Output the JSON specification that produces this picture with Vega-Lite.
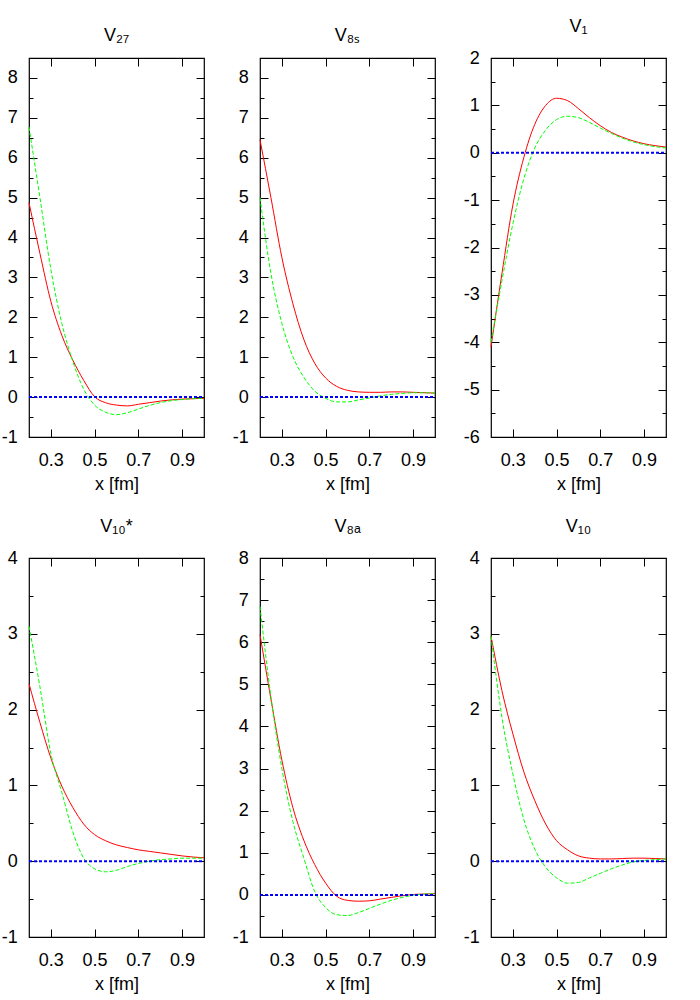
{
  "$schema": "https://vega.github.io/schema/vega-lite/v6.json",
  "padding": {"top": 17, "left": 0, "right": 0, "bottom": 0},
  "background": "white",
  "config": {
    "view": {"stroke": "black", "strokeWidth": 1.2},
    "axis": {"grid": false, "domain": false, "labelFont": "Liberation Sans", "labelFontSize": 18, "labelColor": "black", "tickColor": "black", "tickWidth": 1, "titleFont": "Liberation Sans", "titleFontSize": 18, "titleFontWeight": "normal", "titleColor": "black", "labelOverlap": false, "labelFlush": false},
    "title": {"font": "Liberation Sans", "fontSize": 18, "fontWeight": "normal", "color": "black", "offset": 13}
  },
  "data": {"values": [
    {"panel":"V27","x":0.2,"red":4.87,"green":6.77},{"panel":"V27","x":0.25,"red":3.6,"green":5.0},{"panel":"V27","x":0.3,"red":2.4,"green":3.2},{"panel":"V27","x":0.35,"red":1.55,"green":1.85},{"panel":"V27","x":0.4,"red":0.93,"green":0.9},{"panel":"V27","x":0.45,"red":0.42,"green":0.2},{"panel":"V27","x":0.5,"red":0.01,"green":-0.2},{"panel":"V27","x":0.55,"red":-0.14,"green":-0.38},{"panel":"V27","x":0.6,"red":-0.2,"green":-0.44},{"panel":"V27","x":0.65,"red":-0.22,"green":-0.39},{"panel":"V27","x":0.7,"red":-0.18,"green":-0.3},{"panel":"V27","x":0.75,"red":-0.14,"green":-0.21},{"panel":"V27","x":0.8,"red":-0.1,"green":-0.14},{"panel":"V27","x":0.85,"red":-0.07,"green":-0.09},{"panel":"V27","x":0.9,"red":-0.05,"green":-0.06},{"panel":"V27","x":0.95,"red":-0.04,"green":-0.04},{"panel":"V27","x":1.0,"red":-0.03,"green":-0.03},
    {"panel":"V8s","x":0.2,"red":6.45,"green":5.0},{"panel":"V8s","x":0.25,"red":5.0,"green":3.1},{"panel":"V8s","x":0.3,"red":3.5,"green":1.85},{"panel":"V8s","x":0.35,"red":2.35,"green":1.02},{"panel":"V8s","x":0.4,"red":1.45,"green":0.5},{"panel":"V8s","x":0.45,"red":0.85,"green":0.15},{"panel":"V8s","x":0.5,"red":0.48,"green":-0.03},{"panel":"V8s","x":0.55,"red":0.27,"green":-0.12},{"panel":"V8s","x":0.6,"red":0.17,"green":-0.12},{"panel":"V8s","x":0.65,"red":0.13,"green":-0.07},{"panel":"V8s","x":0.7,"red":0.12,"green":-0.02},{"panel":"V8s","x":0.75,"red":0.12,"green":0.03},{"panel":"V8s","x":0.8,"red":0.13,"green":0.07},{"panel":"V8s","x":0.85,"red":0.13,"green":0.09},{"panel":"V8s","x":0.9,"red":0.12,"green":0.11},{"panel":"V8s","x":0.95,"red":0.11,"green":0.11},{"panel":"V8s","x":1.0,"red":0.1,"green":0.1},
    {"panel":"V1","x":0.2,"red":-4.1,"green":-4.0},{"panel":"V1","x":0.25,"red":-2.55,"green":-2.7},{"panel":"V1","x":0.3,"red":-1.1,"green":-1.5},{"panel":"V1","x":0.35,"red":-0.1,"green":-0.55},{"panel":"V1","x":0.4,"red":0.6,"green":0.1},{"panel":"V1","x":0.45,"red":1.0,"green":0.48},{"panel":"V1","x":0.5,"red":1.15,"green":0.7},{"panel":"V1","x":0.55,"red":1.1,"green":0.77},{"panel":"V1","x":0.6,"red":0.93,"green":0.74},{"panel":"V1","x":0.65,"red":0.74,"green":0.64},{"panel":"V1","x":0.7,"red":0.57,"green":0.52},{"panel":"V1","x":0.75,"red":0.43,"green":0.41},{"panel":"V1","x":0.8,"red":0.33,"green":0.31},{"panel":"V1","x":0.85,"red":0.25,"green":0.23},{"panel":"V1","x":0.9,"red":0.19,"green":0.17},{"panel":"V1","x":0.95,"red":0.15,"green":0.13},{"panel":"V1","x":1.0,"red":0.12,"green":0.1},
    {"panel":"V10s","x":0.2,"red":2.34,"green":3.1},{"panel":"V10s","x":0.25,"red":1.83,"green":2.3},{"panel":"V10s","x":0.3,"red":1.36,"green":1.42},{"panel":"V10s","x":0.35,"red":0.99,"green":0.91},{"panel":"V10s","x":0.4,"red":0.71,"green":0.39},{"panel":"V10s","x":0.45,"red":0.49,"green":0.04},{"panel":"V10s","x":0.5,"red":0.35,"green":-0.1},{"panel":"V10s","x":0.55,"red":0.27,"green":-0.14},{"panel":"V10s","x":0.6,"red":0.215,"green":-0.12},{"panel":"V10s","x":0.65,"red":0.18,"green":-0.07},{"panel":"V10s","x":0.7,"red":0.15,"green":-0.03},{"panel":"V10s","x":0.75,"red":0.13,"green":0.0},{"panel":"V10s","x":0.8,"red":0.11,"green":0.02},{"panel":"V10s","x":0.85,"red":0.09,"green":0.03},{"panel":"V10s","x":0.9,"red":0.07,"green":0.04},{"panel":"V10s","x":0.95,"red":0.055,"green":0.04},{"panel":"V10s","x":1.0,"red":0.045,"green":0.04},
    {"panel":"V8a","x":0.2,"red":6.18,"green":6.85},{"panel":"V8a","x":0.25,"red":4.65,"green":4.7},{"panel":"V8a","x":0.3,"red":3.2,"green":3.0},{"panel":"V8a","x":0.35,"red":2.08,"green":1.75},{"panel":"V8a","x":0.4,"red":1.3,"green":0.88},{"panel":"V8a","x":0.45,"red":0.72,"green":0.08},{"panel":"V8a","x":0.5,"red":0.28,"green":-0.3},{"panel":"V8a","x":0.55,"red":-0.03,"green":-0.47},{"panel":"V8a","x":0.6,"red":-0.13,"green":-0.49},{"panel":"V8a","x":0.65,"red":-0.15,"green":-0.42},{"panel":"V8a","x":0.7,"red":-0.14,"green":-0.32},{"panel":"V8a","x":0.75,"red":-0.1,"green":-0.22},{"panel":"V8a","x":0.8,"red":-0.06,"green":-0.13},{"panel":"V8a","x":0.85,"red":-0.02,"green":-0.06},{"panel":"V8a","x":0.9,"red":0.01,"green":-0.01},{"panel":"V8a","x":0.95,"red":0.02,"green":0.02},{"panel":"V8a","x":1.0,"red":0.03,"green":0.03},
    {"panel":"V10","x":0.2,"red":2.97,"green":2.97},{"panel":"V10","x":0.25,"red":2.25,"green":1.9},{"panel":"V10","x":0.3,"red":1.68,"green":1.15},{"panel":"V10","x":0.35,"red":1.18,"green":0.55},{"panel":"V10","x":0.4,"red":0.8,"green":0.16},{"panel":"V10","x":0.45,"red":0.49,"green":-0.08},{"panel":"V10","x":0.5,"red":0.27,"green":-0.22},{"panel":"V10","x":0.55,"red":0.15,"green":-0.29},{"panel":"V10","x":0.6,"red":0.07,"green":-0.28},{"panel":"V10","x":0.65,"red":0.04,"green":-0.22},{"panel":"V10","x":0.7,"red":0.03,"green":-0.16},{"panel":"V10","x":0.75,"red":0.03,"green":-0.1},{"panel":"V10","x":0.8,"red":0.035,"green":-0.05},{"panel":"V10","x":0.85,"red":0.04,"green":-0.01},{"panel":"V10","x":0.9,"red":0.04,"green":0.01},{"panel":"V10","x":0.95,"red":0.035,"green":0.02},{"panel":"V10","x":1.0,"red":0.03,"green":0.03}
  ]},
  "columns": 3,
  "bounds": "flush",
  "spacing": {"row": 121, "column": 56},
  "concat": [
    {"width":175,"height":379,"title":{"text":"V₂₇"},"transform":[{"filter":"datum.panel === 'V27'"}],
     "layer":[
      {"mark":{"type":"line","color":"#ff0000","strokeWidth":1,"interpolate":"monotone"},
       "encoding":{"x":{"field":"x","type":"quantitative","scale":{"domain":[0.2,1.0],"nice":false,"zero":false},"axis":{"orient":"bottom","values":[0.3,0.5,0.7,0.9],"format":".1f","tickSize":-8,"labelPadding":22,"title":"x [fm]","titlePadding":6}},
                   "y":{"field":"red","type":"quantitative","scale":{"domain":[-1,8.5],"nice":false,"zero":false},"axis":{"orient":"left","values":[-1,0,1,2,3,4,5,6,7,8],"labelExpr":"'' + datum.value","tickSize":-8,"labelPadding":19.7,"title":null}}}},
      {"mark":{"type":"line","color":"#00ff00","strokeWidth":1,"strokeDash":[4,2],"interpolate":"monotone"},
       "encoding":{"x":{"field":"x","type":"quantitative","axis":{"orient":"top","values":[0.3,0.5,0.7,0.9],"labels":false,"tickSize":-8,"title":null}},
                   "y":{"field":"green","type":"quantitative","axis":{"orient":"right","values":[-1,0,1,2,3,4,5,6,7,8],"labels":false,"tickSize":-8,"title":null}}}},
      {"mark":{"type":"line","color":"#0000ff","strokeWidth":2,"strokeDash":[3,2]},
       "encoding":{"x":{"field":"x","type":"quantitative","axis":null},"y":{"datum":0,"type":"quantitative","axis":{"orient":"left","values":[-0.5,0.5,1.5,2.5,3.5,4.5,5.5,6.5,7.5],"labels":false,"tickSize":-4,"title":null}}}},
      {"mark":{"type":"line","strokeOpacity":0},
       "encoding":{"x":{"field":"x","type":"quantitative","axis":null},"y":{"datum":0,"type":"quantitative","axis":{"orient":"right","values":[-0.5,0.5,1.5,2.5,3.5,4.5,5.5,6.5,7.5],"labels":false,"tickSize":-4,"title":null}}}}
     ],
     "resolve":{"axis":{"x":"independent","y":"independent"}}},
    {"width":175,"height":379,"title":{"text":"V₈ₛ"},"transform":[{"filter":"datum.panel === 'V8s'"}],
     "layer":[
      {"mark":{"type":"line","color":"#ff0000","strokeWidth":1,"interpolate":"monotone"},
       "encoding":{"x":{"field":"x","type":"quantitative","scale":{"domain":[0.2,1.0],"nice":false,"zero":false},"axis":{"orient":"bottom","values":[0.3,0.5,0.7,0.9],"format":".1f","tickSize":-8,"labelPadding":22,"title":"x [fm]","titlePadding":6}},
                   "y":{"field":"red","type":"quantitative","scale":{"domain":[-1,8.5],"nice":false,"zero":false},"axis":{"orient":"left","values":[-1,0,1,2,3,4,5,6,7,8],"labelExpr":"'' + datum.value","tickSize":-8,"labelPadding":19.7,"title":null}}}},
      {"mark":{"type":"line","color":"#00ff00","strokeWidth":1,"strokeDash":[4,2],"interpolate":"monotone"},
       "encoding":{"x":{"field":"x","type":"quantitative","axis":{"orient":"top","values":[0.3,0.5,0.7,0.9],"labels":false,"tickSize":-8,"title":null}},
                   "y":{"field":"green","type":"quantitative","axis":{"orient":"right","values":[-1,0,1,2,3,4,5,6,7,8],"labels":false,"tickSize":-8,"title":null}}}},
      {"mark":{"type":"line","color":"#0000ff","strokeWidth":2,"strokeDash":[3,2]},
       "encoding":{"x":{"field":"x","type":"quantitative","axis":null},"y":{"datum":0,"type":"quantitative","axis":{"orient":"left","values":[-0.5,0.5,1.5,2.5,3.5,4.5,5.5,6.5,7.5],"labels":false,"tickSize":-4,"title":null}}}},
      {"mark":{"type":"line","strokeOpacity":0},
       "encoding":{"x":{"field":"x","type":"quantitative","axis":null},"y":{"datum":0,"type":"quantitative","axis":{"orient":"right","values":[-0.5,0.5,1.5,2.5,3.5,4.5,5.5,6.5,7.5],"labels":false,"tickSize":-4,"title":null}}}}
     ],
     "resolve":{"axis":{"x":"independent","y":"independent"}}},
    {"width":175,"height":379,"title":{"text":"V₁"},"transform":[{"filter":"datum.panel === 'V1'"}],
     "layer":[
      {"mark":{"type":"line","color":"#ff0000","strokeWidth":1,"interpolate":"monotone"},
       "encoding":{"x":{"field":"x","type":"quantitative","scale":{"domain":[0.2,1.0],"nice":false,"zero":false},"axis":{"orient":"bottom","values":[0.3,0.5,0.7,0.9],"format":".1f","tickSize":-8,"labelPadding":22,"title":"x [fm]","titlePadding":6}},
                   "y":{"field":"red","type":"quantitative","scale":{"domain":[-6,2],"nice":false,"zero":false},"axis":{"orient":"left","values":[-6,-5,-4,-3,-2,-1,0,1,2],"labelExpr":"'' + datum.value","tickSize":-8,"labelPadding":19.7,"title":null}}}},
      {"mark":{"type":"line","color":"#00ff00","strokeWidth":1,"strokeDash":[4,2],"interpolate":"monotone"},
       "encoding":{"x":{"field":"x","type":"quantitative","axis":{"orient":"top","values":[0.3,0.5,0.7,0.9],"labels":false,"tickSize":-8,"title":null}},
                   "y":{"field":"green","type":"quantitative","axis":{"orient":"right","values":[-6,-5,-4,-3,-2,-1,0,1,2],"labels":false,"tickSize":-8,"title":null}}}},
      {"mark":{"type":"line","color":"#0000ff","strokeWidth":2,"strokeDash":[3,2]},
       "encoding":{"x":{"field":"x","type":"quantitative","axis":null},"y":{"datum":0,"type":"quantitative","axis":{"orient":"left","values":[-5.5,-4.5,-3.5,-2.5,-1.5,-0.5,0.5,1.5],"labels":false,"tickSize":-4,"title":null}}}},
      {"mark":{"type":"line","strokeOpacity":0},
       "encoding":{"x":{"field":"x","type":"quantitative","axis":null},"y":{"datum":0,"type":"quantitative","axis":{"orient":"right","values":[-5.5,-4.5,-3.5,-2.5,-1.5,-0.5,0.5,1.5],"labels":false,"tickSize":-4,"title":null}}}}
     ],
     "resolve":{"axis":{"x":"independent","y":"independent"}}},
    {"width":175,"height":379,"title":{"text":"V₁₀*"},"transform":[{"filter":"datum.panel === 'V10s'"}],
     "layer":[
      {"mark":{"type":"line","color":"#ff0000","strokeWidth":1,"interpolate":"monotone"},
       "encoding":{"x":{"field":"x","type":"quantitative","scale":{"domain":[0.2,1.0],"nice":false,"zero":false},"axis":{"orient":"bottom","values":[0.3,0.5,0.7,0.9],"format":".1f","tickSize":-8,"labelPadding":22,"title":"x [fm]","titlePadding":6}},
                   "y":{"field":"red","type":"quantitative","scale":{"domain":[-1,4],"nice":false,"zero":false},"axis":{"orient":"left","values":[-1,0,1,2,3,4],"labelExpr":"'' + datum.value","tickSize":-8,"labelPadding":19.7,"title":null}}}},
      {"mark":{"type":"line","color":"#00ff00","strokeWidth":1,"strokeDash":[4,2],"interpolate":"monotone"},
       "encoding":{"x":{"field":"x","type":"quantitative","axis":{"orient":"top","values":[0.3,0.5,0.7,0.9],"labels":false,"tickSize":-8,"title":null}},
                   "y":{"field":"green","type":"quantitative","axis":{"orient":"right","values":[-1,0,1,2,3,4],"labels":false,"tickSize":-8,"title":null}}}},
      {"mark":{"type":"line","color":"#0000ff","strokeWidth":2,"strokeDash":[3,2]},
       "encoding":{"x":{"field":"x","type":"quantitative","axis":null},"y":{"datum":0,"type":"quantitative","axis":{"orient":"left","values":[-0.5,0.5,1.5,2.5,3.5],"labels":false,"tickSize":-4,"title":null}}}},
      {"mark":{"type":"line","strokeOpacity":0},
       "encoding":{"x":{"field":"x","type":"quantitative","axis":null},"y":{"datum":0,"type":"quantitative","axis":{"orient":"right","values":[-0.5,0.5,1.5,2.5,3.5],"labels":false,"tickSize":-4,"title":null}}}}
     ],
     "resolve":{"axis":{"x":"independent","y":"independent"}}},
    {"width":175,"height":379,"title":{"text":"V₈ₐ"},"transform":[{"filter":"datum.panel === 'V8a'"}],
     "layer":[
      {"mark":{"type":"line","color":"#ff0000","strokeWidth":1,"interpolate":"monotone"},
       "encoding":{"x":{"field":"x","type":"quantitative","scale":{"domain":[0.2,1.0],"nice":false,"zero":false},"axis":{"orient":"bottom","values":[0.3,0.5,0.7,0.9],"format":".1f","tickSize":-8,"labelPadding":22,"title":"x [fm]","titlePadding":6}},
                   "y":{"field":"red","type":"quantitative","scale":{"domain":[-1,8],"nice":false,"zero":false},"axis":{"orient":"left","values":[-1,0,1,2,3,4,5,6,7,8],"labelExpr":"'' + datum.value","tickSize":-8,"labelPadding":19.7,"title":null}}}},
      {"mark":{"type":"line","color":"#00ff00","strokeWidth":1,"strokeDash":[4,2],"interpolate":"monotone"},
       "encoding":{"x":{"field":"x","type":"quantitative","axis":{"orient":"top","values":[0.3,0.5,0.7,0.9],"labels":false,"tickSize":-8,"title":null}},
                   "y":{"field":"green","type":"quantitative","axis":{"orient":"right","values":[-1,0,1,2,3,4,5,6,7,8],"labels":false,"tickSize":-8,"title":null}}}},
      {"mark":{"type":"line","color":"#0000ff","strokeWidth":2,"strokeDash":[3,2]},
       "encoding":{"x":{"field":"x","type":"quantitative","axis":null},"y":{"datum":0,"type":"quantitative","axis":{"orient":"left","values":[-0.5,0.5,1.5,2.5,3.5,4.5,5.5,6.5,7.5],"labels":false,"tickSize":-4,"title":null}}}},
      {"mark":{"type":"line","strokeOpacity":0},
       "encoding":{"x":{"field":"x","type":"quantitative","axis":null},"y":{"datum":0,"type":"quantitative","axis":{"orient":"right","values":[-0.5,0.5,1.5,2.5,3.5,4.5,5.5,6.5,7.5],"labels":false,"tickSize":-4,"title":null}}}}
     ],
     "resolve":{"axis":{"x":"independent","y":"independent"}}},
    {"width":175,"height":379,"title":{"text":"V₁₀"},"transform":[{"filter":"datum.panel === 'V10'"}],
     "layer":[
      {"mark":{"type":"line","color":"#ff0000","strokeWidth":1,"interpolate":"monotone"},
       "encoding":{"x":{"field":"x","type":"quantitative","scale":{"domain":[0.2,1.0],"nice":false,"zero":false},"axis":{"orient":"bottom","values":[0.3,0.5,0.7,0.9],"format":".1f","tickSize":-8,"labelPadding":22,"title":"x [fm]","titlePadding":6}},
                   "y":{"field":"red","type":"quantitative","scale":{"domain":[-1,4],"nice":false,"zero":false},"axis":{"orient":"left","values":[-1,0,1,2,3,4],"labelExpr":"'' + datum.value","tickSize":-8,"labelPadding":19.7,"title":null}}}},
      {"mark":{"type":"line","color":"#00ff00","strokeWidth":1,"strokeDash":[4,2],"interpolate":"monotone"},
       "encoding":{"x":{"field":"x","type":"quantitative","axis":{"orient":"top","values":[0.3,0.5,0.7,0.9],"labels":false,"tickSize":-8,"title":null}},
                   "y":{"field":"green","type":"quantitative","axis":{"orient":"right","values":[-1,0,1,2,3,4],"labels":false,"tickSize":-8,"title":null}}}},
      {"mark":{"type":"line","color":"#0000ff","strokeWidth":2,"strokeDash":[3,2]},
       "encoding":{"x":{"field":"x","type":"quantitative","axis":null},"y":{"datum":0,"type":"quantitative","axis":{"orient":"left","values":[-0.5,0.5,1.5,2.5,3.5],"labels":false,"tickSize":-4,"title":null}}}},
      {"mark":{"type":"line","strokeOpacity":0},
       "encoding":{"x":{"field":"x","type":"quantitative","axis":null},"y":{"datum":0,"type":"quantitative","axis":{"orient":"right","values":[-0.5,0.5,1.5,2.5,3.5],"labels":false,"tickSize":-4,"title":null}}}}
     ],
     "resolve":{"axis":{"x":"independent","y":"independent"}}}
  ]
}
